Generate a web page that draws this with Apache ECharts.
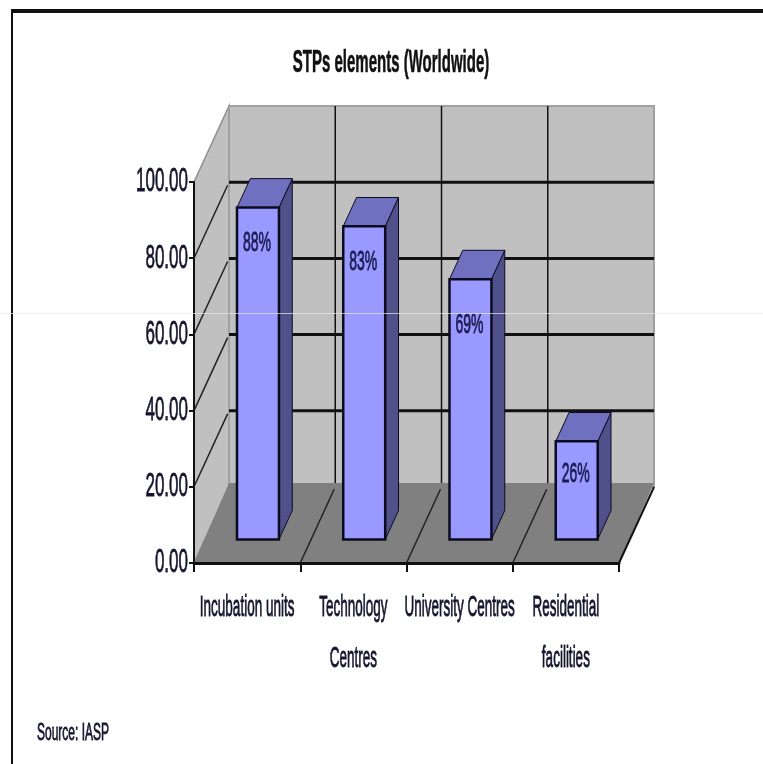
<!DOCTYPE html>
<html>
<head>
<meta charset="utf-8">
<title>STPs elements</title>
<script src="https://cdn.jsdelivr.net/npm/echarts@6/dist/echarts.min.js"></script>
<style>
html,body{margin:0;padding:0;background:#fff;}
#chart{width:763px;height:764px;}
</style>
</head>
<body>
<div id="chart"></div>
<script>
var categories = ['Incubation units', 'Technology\nCentres', 'University Centres', 'Residential\nfacilities'];
var barValues = [88, 83, 69, 26];
var barLabels = ['88%', '83%', '69%', '26%'];
var yTicks = [0, 20, 40, 60, 80, 100];
var yTickLabels = ['0.00', '20.00', '40.00', '60.00', '80.00', '100.00'];

// 3D look: how far the back wall is pushed from the front plane
var DEPTH_X = 35, DEPTH_Y = -76;
var FLOOR_BACK_Y = -80;   // floor runs a little past the wall foot
var EDGE_CUT = 0.97;      // floor lines stop short of the wall
var BAR_NEAR = 0.31, BAR_FAR = 0.69, BAR_WIDTH = 0.395, BAR_SCALE = 0.99;
var LABEL_DROP = [36, 36, 46, 33];
var FONT = '"Liberation Sans", Arial, sans-serif';

function stretched(text, x, y, size, scaleY, align, color, weight) {
	return {
		type: 'text', x: x, y: y, scaleY: scaleY, z2: 20,
		style: {
			text: text, x: 0, y: 0, align: align, verticalAlign: 'middle',
			fontFamily: FONT, fontSize: size, fontWeight: weight || 'normal', fill: color,
			stroke: color, lineWidth: 0.4
		}
	};
}

function poly(points, fill, stroke, z2, width) {
	return {
		type: 'polygon', z2: z2 || 0,
		shape: { points: points },
		style: { fill: fill, stroke: stroke || null, lineWidth: stroke ? (width || 1) : 0 }
	};
}

function line(a, b, color, width) {
	return {
		type: 'line', z2: 5,
		shape: { x1: a[0], y1: a[1], x2: b[0], y2: b[1] },
		style: { stroke: color, lineWidth: width || 2 }
	};
}

function back(p, k) {
	k = k === undefined ? 1 : k;
	return [p[0] + DEPTH_X * k, p[1] + DEPTH_Y * k];
}

// walls, floor, gridlines and axis texts
function renderWalls(params, api) {
	var size = api.size([1, 0])[0];
	var first = api.coord([0, 0]);
	var left = first[0] - size / 2;
	var right = left + size * categories.length;
	var y0 = first[1];
	var y100 = api.coord([0, 100])[1];
	var fl = [left, y0], fr = [right, y0], tl = [left, y100], tr = [right, y100];
	var floorL = [left + DEPTH_X, y0 + FLOOR_BACK_Y], floorR = [right + DEPTH_X, y0 + FLOOR_BACK_Y];
	var kids = [
		poly([fl, back(fl), back(tl), tl], '#c0c0c0', '#909090', 0, 1.5),
		poly([back(fl), back(fr), back(tr), back(tl)], '#c0c0c0', '#a0a0a0', 0, 2),
		poly([fl, fr, floorR, floorL], '#808080', null, 1)
	];
	yTicks.forEach(function (t, i) {
		var y = api.coord([0, t])[1];
		if (t > 0 && t < 100) {
			kids.push(line([left, y], back([left, y], 0.96), '#222', 1.5));
			kids.push(line(back([left, y]), back([right, y]), '#111', 3));
		}
		kids.push(stretched(yTickLabels[i], left - 6, y, 17, 2, 'right', '#15152e'));
	});
	categories.forEach(function (name, i) {
		var x = left + size * i;
		if (i > 0) {
			kids.push(line([x, y0], back([x, y0], EDGE_CUT), '#222', 1.5));
			kids.push(line([x + DEPTH_X, y0 + FLOOR_BACK_Y], back([x, y100]), '#111', 1.5));
		}
		name.split('\n').forEach(function (txt, k) {
			kids.push(stretched(txt, x + size / 2, y0 + 45 + k * 51, 13.5, 2.2, 'center', '#15152e'));
		});
	});
	kids.push(line(fr, back(fr, 1), '#111', 2));
	return { type: 'group', children: kids };
}

function renderBar(params, api) {
	var i = api.value(0);
	var top = api.coord([i, api.value(1)]);
	var base = api.coord([i, 0]);
	var w = api.size([1, 0])[0] * BAR_WIDTH;
	var nx = DEPTH_X * BAR_NEAR, ny = DEPTH_Y * BAR_NEAR;
	var fx = DEPTH_X * (BAR_FAR - BAR_NEAR), fy = DEPTH_Y * (BAR_FAR - BAR_NEAR);
	var x0 = top[0] - w / 2 + nx, x1 = x0 + w;
	var yb = base[1] + ny;
	var yt = yb - (base[1] - top[1]) * BAR_SCALE;
	var edge = '#0b0b20';
	return {
		type: 'group',
		children: [
			poly([[x1, yt], [x1 + fx, yt + fy], [x1 + fx, yb + fy], [x1, yb]], '#50508a', edge),
			poly([[x0, yt], [x0 + fx, yt + fy], [x1 + fx, yt + fy], [x1, yt]], '#7070c0', edge),
			{
				type: 'rect', z2: 2,
				shape: { x: x0, y: yt, width: w, height: yb - yt },
				style: { fill: '#9999ff', stroke: edge, lineWidth: 2.5 }
			},
			stretched(barLabels[i], (x0 + x1) / 2 - 1, yt + LABEL_DROP[i], 14, 2, 'center', '#1a1a50')
		]
	};
}

var myChart = echarts.init(document.getElementById('chart'));
myChart.setOption({
	backgroundColor: '#fff',
	animation: false,
	grid: { left: 194, top: 182, width: 425, height: 381 },
	xAxis: {
		type: 'category',
		data: categories,
		z: 5,
		axisLine: { lineStyle: { color: '#111', width: 3 } },
		axisTick: { show: true, interval: 0, length: 9, lineStyle: { color: '#111', width: 2 } },
		axisLabel: { show: false },
		splitLine: { show: false }
	},
	yAxis: {
		type: 'value',
		min: 0,
		max: 100,
		interval: 20,
		z: 5,
		axisLine: { show: true, lineStyle: { color: '#111', width: 2 } },
		axisTick: { show: true, length: 5, lineStyle: { color: '#111', width: 2 } },
		axisLabel: { show: false },
		splitLine: { show: false }
	},
	series: [
		{ type: 'custom', z: 1, silent: true, clip: false, data: [[0, 0]], renderItem: renderWalls },
		{
			type: 'custom', z: 3, silent: true, clip: false,
			encode: { x: 0, y: 1 },
			data: barValues.map(function (v, i) { return [i, v]; }),
			renderItem: renderBar
		}
	],
	graphic: [
		{ type: 'line', z: 50, shape: { x1: 11, y1: 11, x2: 763, y2: 11 }, style: { stroke: '#111', lineWidth: 4 } },
		{ type: 'line', z: 50, shape: { x1: 12, y1: 11, x2: 12, y2: 764 }, style: { stroke: '#111', lineWidth: 2 } },
		{ type: 'line', z: 50, shape: { x1: 0, y1: 313.5, x2: 763, y2: 313.5 }, style: { stroke: 'rgba(232,232,232,0.7)', lineWidth: 1 } },
		{
			type: 'text', z: 50, x: 391, y: 63, scaleY: 2.1,
			style: { text: 'STPs elements (Worldwide)', align: 'center', verticalAlign: 'middle', fontFamily: FONT, fontSize: 15, fontWeight: 'bold', fill: '#111', stroke: '#111', lineWidth: 0.3 }
		},
		{
			type: 'text', z: 50, x: 37, y: 733, scaleY: 2,
			style: { text: 'Source: IASP', align: 'left', verticalAlign: 'middle', fontFamily: FONT, fontSize: 12, fill: '#15152e', stroke: '#15152e', lineWidth: 0.4 }
		}
	]
});
</script>
</body>
</html>
